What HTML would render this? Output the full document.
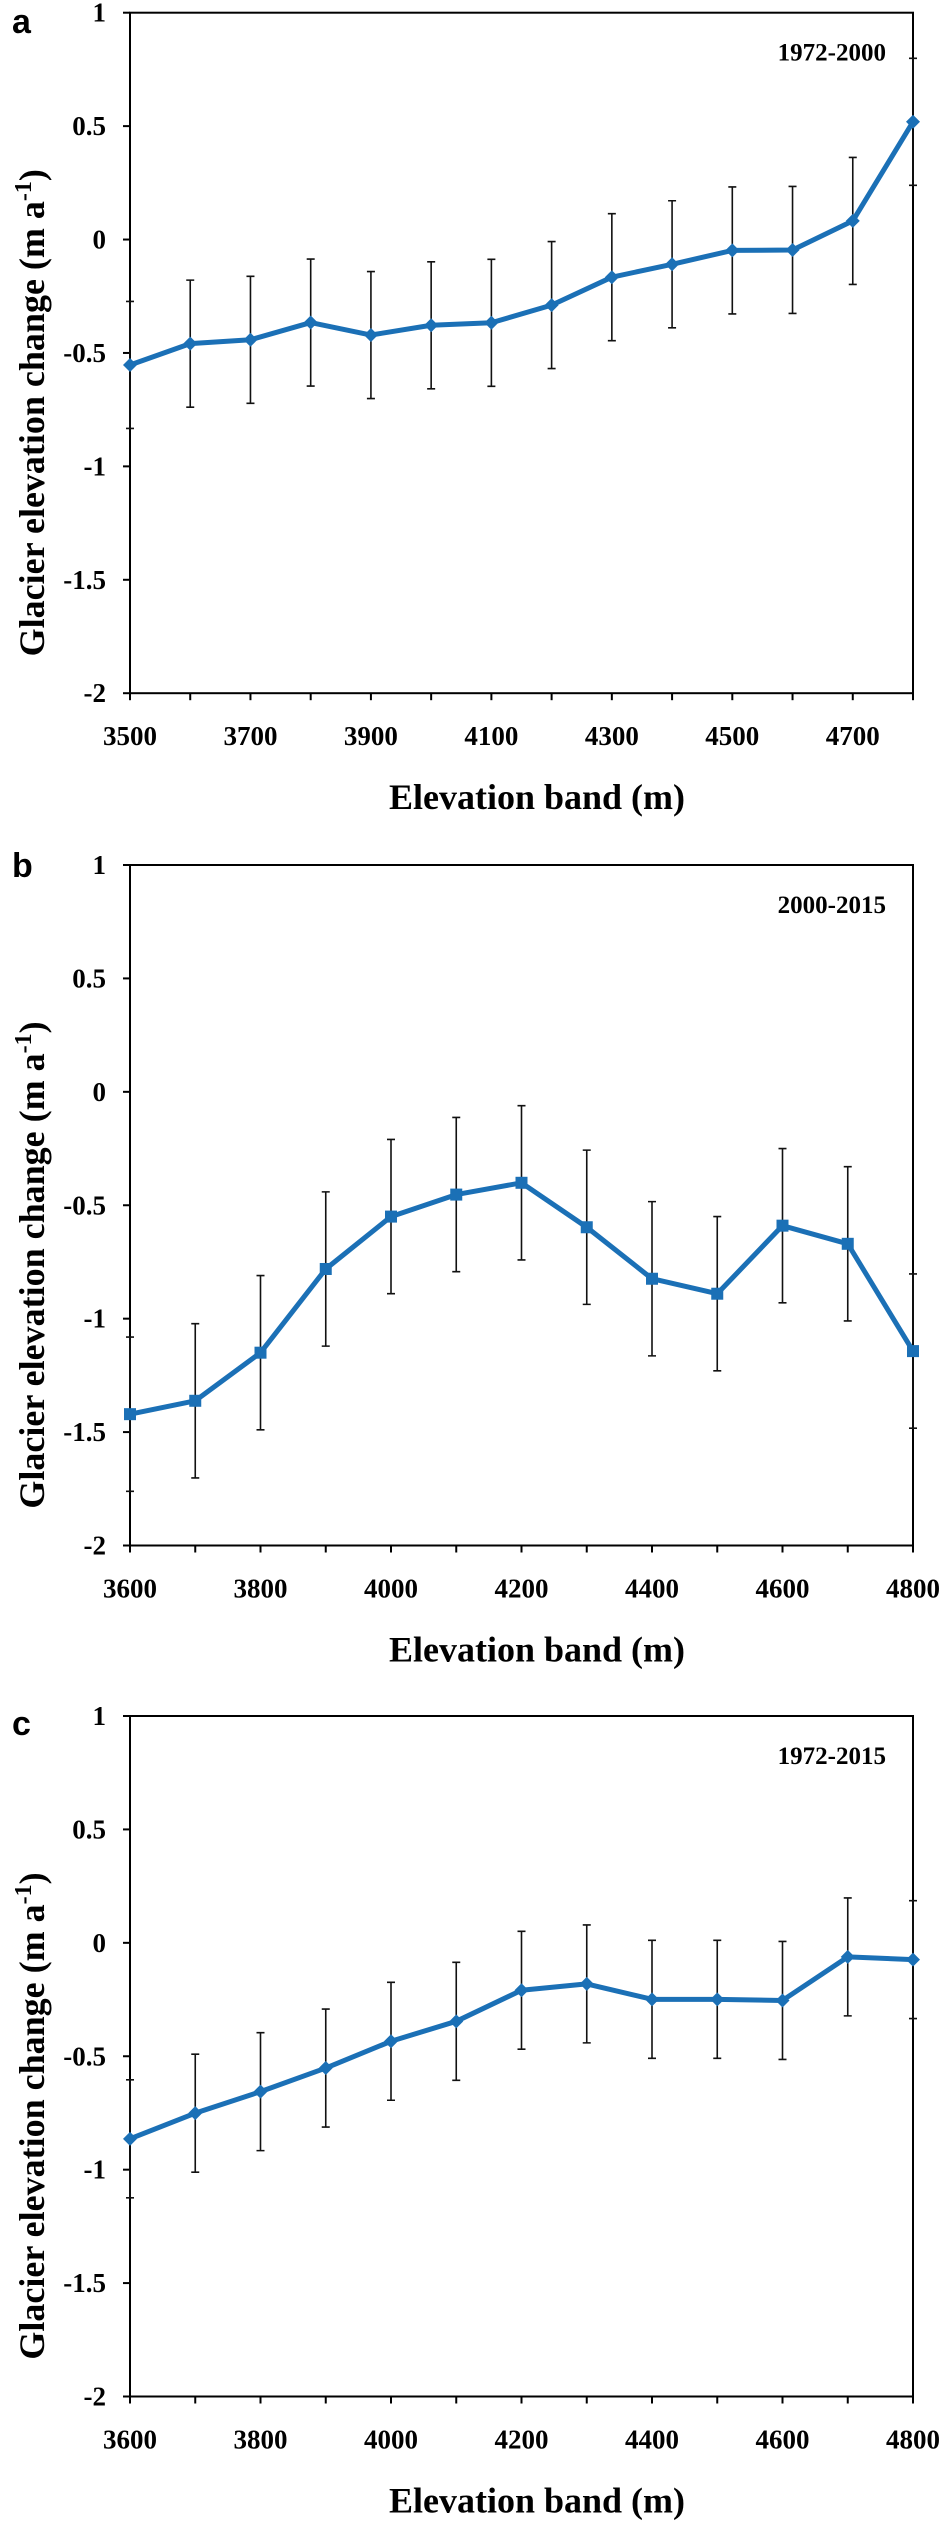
<!DOCTYPE html>
<html><head><meta charset="utf-8"><style>
html,body{margin:0;padding:0;background:#fff;}
svg{display:block;}
text{font-family:"Liberation Serif",serif;font-weight:bold;fill:#000;}
</style></head><body>
<svg id="fig" width="950" height="2526" viewBox="0 0 950 2526" xmlns="http://www.w3.org/2000/svg"></svg>
<script>
// Panel a: 1972-2000
const catsA = [3500,3600,3700,3800,3900,4000,4100,4200,4300,4400,4500,4600,4700,4800];
const valsA = [-0.553,-0.459,-0.442,-0.366,-0.421,-0.378,-0.367,-0.289,-0.166,-0.109,-0.048,-0.046,0.082,0.519];
const errA = [0.28,0.28,0.28,0.28,0.28,0.28,0.28,0.28,0.28,0.28,0.28,0.28,0.28,0.28];
const xTicksA = [3500,3700,3900,4100,4300,4500,4700];
// Panel b: 2000-2015
const catsB = [3600,3700,3800,3900,4000,4100,4200,4300,4400,4500,4600,4700,4800];
const valsB = [-1.421,-1.362,-1.150,-0.781,-0.550,-0.453,-0.401,-0.597,-0.824,-0.890,-0.590,-0.670,-1.143];
const errB = [0.34,0.34,0.34,0.34,0.34,0.34,0.34,0.34,0.34,0.34,0.34,0.34,0.34];
// Panel c: 1972-2015
const catsC = [3600,3700,3800,3900,4000,4100,4200,4300,4400,4500,4600,4700,4800];
const valsC = [-0.864,-0.751,-0.656,-0.552,-0.434,-0.346,-0.209,-0.181,-0.249,-0.249,-0.254,-0.062,-0.074];
const errC = [0.26,0.26,0.26,0.26,0.26,0.26,0.26,0.26,0.26,0.26,0.26,0.26,0.26];
const xTicksBC = [3600,3800,4000,4200,4400,4600,4800];
const yTicks = [1,0.5,0,-0.5,-1,-1.5,-2];
const yTickLabels = ["1","0.5","0","-0.5","-1","-1.5","-2"];

const NS="http://www.w3.org/2000/svg";
const svg=document.getElementById('fig');
const BLUE="#1b70b6";
function mk(tag,attrs,parent){const e=document.createElementNS(NS,tag);for(const k in attrs)e.setAttribute(k,attrs[k]);(parent||svg).appendChild(e);return e;}

function panel(id,top,letter,letterY,period,cats,vals,errs,xTicks,marker){
  const L=130,R=913,T=top,B=top+680.5;
  const xmin=cats[0],xmax=cats[cats.length-1];
  const X=v=>L+(v-xmin)/(xmax-xmin)*(R-L);
  const Y=v=>T+(1-v)/3*(B-T);
  const g=mk('g',{});
  
  
  const lt=mk('text',{x:12,y:letterY,'font-size':34,style:'font-family:"Liberation Sans",sans-serif;font-weight:bold'},g);
  lt.textContent=letter;
  
  
  const frame=mk('rect',{x:L,y:T,width:R-L,height:B-T,fill:'none',stroke:'#000','stroke-width':2},g);
  
  
  yTicks.forEach((v,i)=>{
    mk('line',{x1:L-7,x2:L,y1:Y(v),y2:Y(v),stroke:'#000','stroke-width':2},g);
    const t=mk('text',{x:106,y:Y(v)+9,'font-size':27,'text-anchor':'end'},g);
    t.textContent=yTickLabels[i];
    
    
  });
  cats.forEach(c=>{mk('line',{x1:X(c),x2:X(c),y1:B,y2:B+7,stroke:'#000','stroke-width':2},g);});
  xTicks.forEach(c=>{
    const t=mk('text',{x:X(c),y:B+52,'font-size':27,'text-anchor':'middle'},g);
    t.textContent=c;
    
    
  });
  const xt=mk('text',{x:537,y:B+116,'font-size':36,'text-anchor':'middle'},g);
  xt.textContent='Elevation band (m)';
  
  
  const yc=T+400;
  const yt=mk('text',{x:44,y:yc,'font-size':36,'text-anchor':'middle',transform:'rotate(-90 44 '+yc+')'},g);
  
  
  yt.appendChild(document.createTextNode('Glacier elevation change (m a'));
  const sp=mk('tspan',{'baseline-shift':'super','font-size':24},yt);sp.textContent='-1';
  const sp2=mk('tspan',{},yt);sp2.textContent=')';
  const pt=mk('text',{x:886,y:T+48,'font-size':25,'text-anchor':'end'},g);
  pt.textContent=period;
  
  
  cats.forEach((c,i)=>{
    const x=X(c),y1=Y(vals[i]+errs[i]),y2=Y(vals[i]-errs[i]);
    const eb=mk('path',{d:`M${x},${y1}V${y2}M${x-4},${y1}H${x+4}M${x-4},${y2}H${x+4}`,stroke:'#111','stroke-width':1.6,fill:'none'},g);
    
    
  });
  const line=mk('polyline',{points:cats.map((c,i)=>X(c)+','+Y(vals[i])).join(' '),fill:'none',stroke:BLUE,'stroke-width':5,'stroke-linejoin':'round'},g);
  
  
  cats.forEach((c,i)=>{
    const x=X(c),y=Y(vals[i]);let m;
    if(marker==='square'){m=mk('rect',{x:x-6,y:y-6,width:12,height:12,fill:BLUE},g);}
    else{m=mk('path',{d:`M${x},${y-7}L${x+7},${y}L${x},${y+7}L${x-7},${y}Z`,fill:BLUE},g);}
    
    
  });
}
panel('a',12.7,'a',33,'1972-2000',catsA,valsA,errA,xTicksA,'diamond');
panel('b',865,'b',877,'2000-2015',catsB,valsB,errB,xTicksBC,'square');
panel('c',1716,'c',1735,'1972-2015',catsC,valsC,errC,xTicksBC,'diamond');
</script>
</body></html>
